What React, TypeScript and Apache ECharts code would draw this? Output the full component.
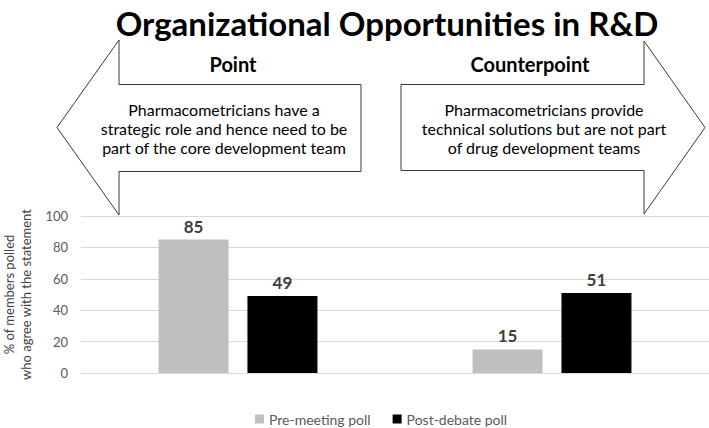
import React, { useEffect, useRef } from "react";
import * as echarts from "echarts";

const categories = ["Point", "Counterpoint"];
const preMeeting = [85, 15];
const postDebate = [49, 51];
const seriesNames = ["Pre-meeting poll", "Post-debate poll"];
const yTicks = { min: 0, max: 100, interval: 20 };
const titleText = "Organizational Opportunities in R&D";
const pointHeading = "Point";
const pointText = "Pharmacometricians have a\nstrategic role and hence need to be\npart of the core development team";
const counterHeading = "Counterpoint";
const counterText = "Pharmacometricians provide\ntechnical solutions but are not part\nof drug development teams";
const yAxisName = "% of members polled\nwho agree with the statement";

const FONT = "Lato, 'Open Sans', sans-serif";

export default function App() {
  const ref = useRef<HTMLDivElement>(null);
  useEffect(() => {
    if (!ref.current) return;
    const chart = echarts.init(ref.current, null, { renderer: "svg" });
    const stroke = "#3a3a3a";
    chart.setOption({
      animation: false,
      backgroundColor: "#ffffff",
      textStyle: { fontFamily: FONT },
      title: {
        text: titleText,
        left: 382,
        top: 1,
        textAlign: "center",
        textStyle: { fontSize: 33, fontWeight: "bold", color: "#000000", fontFamily: FONT },
      },
      graphic: [
        {
          type: "polygon",
          z: 0,
          shape: {
            points: [
              [57, 127.5],
              [119, 40],
              [119, 84.5],
              [361, 84.5],
              [361, 171.5],
              [119, 171.5],
              [119, 215],
            ],
          },
          style: { fill: "#ffffff", stroke, lineWidth: 1 },
        },
        {
          type: "polygon",
          z: 0,
          shape: {
            points: [
              [705, 127.5],
              [644, 41],
              [644, 84.5],
              [401, 84.5],
              [401, 170.5],
              [644, 170.5],
              [644, 214],
            ],
          },
          style: { fill: "#ffffff", stroke, lineWidth: 1 },
        },
        {
          type: "text",
          x: 233,
          y: 64,
          style: {
            text: pointHeading,
            fontSize: 20,
            fontWeight: "bold",
            fontFamily: FONT,
            fill: "#000000",
            textAlign: "center",
            textVerticalAlign: "middle",
          },
        },
        {
          type: "text",
          x: 530,
          y: 64,
          style: {
            text: counterHeading,
            fontSize: 20,
            fontWeight: "bold",
            fontFamily: FONT,
            fill: "#000000",
            textAlign: "center",
            textVerticalAlign: "middle",
          },
        },
        {
          type: "text",
          x: 224,
          y: 128,
          style: {
            text: pointText,
            fontSize: 16,
            lineHeight: 19,
            fontFamily: FONT,
            fill: "#000000",
            textAlign: "center",
            textVerticalAlign: "middle",
          },
        },
        {
          type: "text",
          x: 544,
          y: 128,
          style: {
            text: counterText,
            fontSize: 16,
            lineHeight: 19,
            fontFamily: FONT,
            fill: "#000000",
            textAlign: "center",
            textVerticalAlign: "middle",
          },
        },
      ],
      legend: {
        left: 250,
        top: 407,
        icon: "rect",
        itemWidth: 9,
        itemHeight: 9,
        itemGap: 22,
        textStyle: { fontSize: 14, color: "#595959", fontFamily: FONT },
        data: seriesNames,
      },
      grid: {
        left: 81,
        right: 0,
        top: 216,
        bottom: 55,
        containLabel: false,
        outerBoundsMode: "none",
      },
      xAxis: {
        type: "category",
        data: categories,
        axisLine: { show: false },
        axisTick: { show: false },
        axisLabel: { show: false },
      },
      yAxis: {
        type: "value",
        min: yTicks.min,
        max: yTicks.max,
        interval: yTicks.interval,
        name: yAxisName,
        nameLocation: "middle",
        nameGap: 47,
        nameRotate: 90,
        nameTextStyle: { fontSize: 13, lineHeight: 17, color: "#404040", fontFamily: FONT },
        axisLine: { show: false },
        axisTick: { show: false },
        axisLabel: { fontSize: 13, color: "#595959", margin: 13, fontFamily: FONT },
        splitLine: { lineStyle: { color: "#d9d9d9", width: 1 } },
      },
      series: [
        {
          name: seriesNames[0],
          type: "bar",
          data: preMeeting,
          barWidth: 70,
          barGap: "27%",
          itemStyle: { color: "#bfbfbf" },
          label: {
            show: true,
            position: "top",
            distance: 5,
            fontSize: 17,
            fontWeight: "bold",
            color: "#404040",
            fontFamily: FONT,
          },
        },
        {
          name: seriesNames[1],
          type: "bar",
          data: postDebate,
          barWidth: 70,
          itemStyle: { color: "#000000" },
          label: {
            show: true,
            position: "top",
            distance: 5,
            fontSize: 17,
            fontWeight: "bold",
            color: "#404040",
            fontFamily: FONT,
          },
        },
      ],
    });
    return () => chart.dispose();
  }, []);
  return (
    <div
      ref={ref}
      style={{ position: "absolute", left: 0, top: 0, width: 709, height: 428 }}
    />
  );
}
